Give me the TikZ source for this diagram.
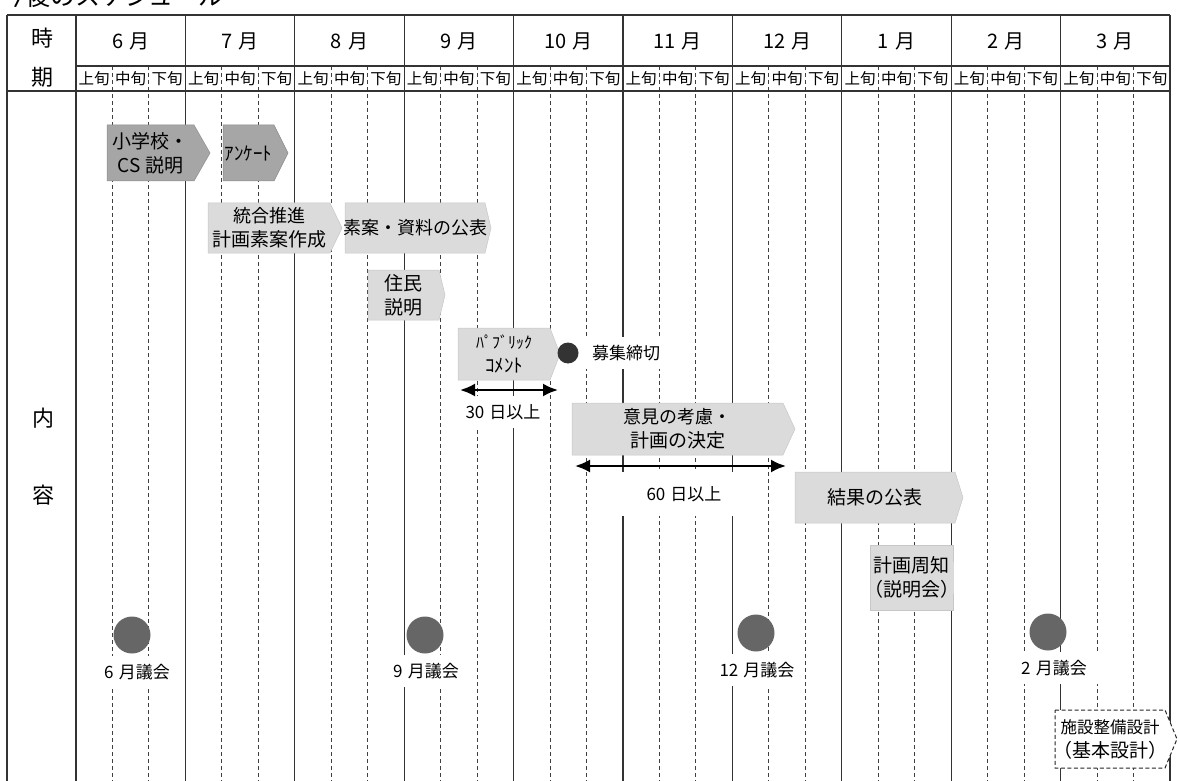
\documentclass[tikz,border=0pt]{standalone}
\usepackage{fontspec}
\setmainfont{Noto Sans CJK JP}
\usetikzlibrary{arrows.meta}
\newcommand\abox[8]{%
  \path[#7] (#2,#3) -- ({#4-#6},#3) -- (#4,{(#3+#5)/2}) -- ({#4-#6},#5) -- (#2,#5) -- cycle;
  \node[txt] (#1) at ({(#2+#4-#6)/2},{(#3+#5)/2}) {#8};
}
\newcommand\gp{\hspace{0.3em}}
\begin{document}
\begin{tikzpicture}[x=1pt,y=-1pt,
  mline/.style={line width=1.2pt, black!80},
  dline/.style={line width=0.9pt, black!75, dash pattern=on 4pt off 3pt},
  hdr/.style={font=\fontsize{20}{24}\selectfont, inner sep=0pt},
  sidehdr/.style={font=\fontsize{22}{26}\selectfont, inner sep=0pt},
  sub/.style={font=\fontsize{15.5}{17}\selectfont, inner sep=0pt},
  txt/.style={font=\fontsize{19}{24}\selectfont, align=center, inner sep=0pt},
  lbl/.style={font=\fontsize{17}{20}\selectfont, fill=white, inner xsep=10pt, inner ysep=8pt},
  dark/.style={fill=black!35, draw=black!45, line width=0.5pt},
  light/.style={fill=black!14, draw=black!22, line width=0.5pt},
  gdot/.style={circle, fill=black!60, minimum size=37pt, inner sep=0pt},
  bdot/.style={circle, fill=black!80, minimum size=21pt, inner sep=0pt},
  dimarrow/.style={line width=2.2pt, {Latex[length=15pt,width=13pt]}-{Latex[length=15pt,width=13pt]}},
]
\useasboundingbox (0,0) rectangle (1179,781);
\def\L{76}\def\W{109.4}
% title (cut off at top, as in the reference)
\node[anchor=base west, inner sep=0pt, font=\fontsize{25}{28}\selectfont] (title) at (0,6) {今後のスケジュール};
% grid
\foreach \k in {0,...,9}{
  \foreach \j in {1,2}{
    \draw[dline] ({\L+\k*\W+\j*\W/3},66) -- ({\L+\k*\W+\j*\W/3},781);
  }
}
\foreach \k in {0,...,10}{
  \draw[mline] ({\L+\k*\W},15) -- ({\L+\k*\W},781);
}
\draw[mline] (7,15) -- (7,781);
\draw[mline] (7,15) -- (1170,15);
\draw[mline] (76,66) -- (1170,66);
\draw[mline] (7,91) -- (1170,91);
% header
\node[sidehdr] (ji) at (42,38) {時};
\node[sidehdr] (ki) at (42,77) {期};
\node[sidehdr] (nai) at (43,418) {内};
\node[sidehdr] (you) at (43,495) {容};
\foreach \m [count=\c from 0] in {6,7,8,9,10,11,12,1,2,3}{
  \node[hdr] (m\c) at ({\L+\c*\W+\W/2},41) {\m\gp 月};
  \node[sub] (s\c a) at ({\L+\c*\W+\W/6},79) {上旬};
  \node[sub] (s\c b) at ({\L+\c*\W+\W/2},79) {中旬};
  \node[sub] (s\c c) at ({\L+\c*\W+5*\W/6},79) {下旬};
}
% labels with white backgrounds
\node[lbl] (boshu) at (626,353) {募集締切};
\node[lbl, inner xsep=8pt] (d30) at (503,412) {30\gp 日以上};
\node[lbl, minimum width=160pt, minimum height=44pt] (d60) at (684,494) {60\gp 日以上};
% boxes
\abox{b1}{107}{125}{210}{181}{16}{dark}{小学校・\\CS 説明}
\abox{b2}{223}{125}{288}{181}{14}{dark}{\fontsize{19}{24}\selectfont ｱﾝｹｰﾄ}
\abox{b3}{208}{203}{342}{253}{12}{light}{\fontsize{18}{24}\selectfont 統合推進\\計画素案作成}
\abox{b4}{345}{203}{491}{253}{6}{light}{\fontsize{18}{24}\selectfont 素案・資料の公表}
\abox{b5}{368}{270}{445}{320}{6}{light}{住民\\説明}
\abox{b6}{458}{328}{560}{380}{10}{light}{\fontsize{16}{24}\selectfont ﾊﾟﾌﾞﾘｯｸ\\ｺﾒﾝﾄ}
\abox{b7}{572}{403}{795}{455}{12}{light}{\fontsize{18}{24}\selectfont 意見の考慮・\\計画の決定}
\abox{b8}{795}{472}{963}{523}{8}{light}{結果の公表}
\abox{b9}{870}{545}{953}{610}{0}{light}{計画周知\\（説明会）}
\abox{b10}{1055}{710}{1177}{768}{12}{draw=black!85, fill=white, line width=1pt, dash pattern=on 4pt off 2.5pt}{\fontsize{16.5}{22}\selectfont 施設整備設計\\（基本設計）}
% deadline dot
\node[bdot] (dl) at (568,353) {};
% dimension arrows
\coordinate (a30s) at (460,390);
\coordinate (a30e) at (558,390);
\coordinate (a60s) at (575,466);
\coordinate (a60e) at (786,466);
\draw[dimarrow] (a30s) -- (a30e);
\draw[dimarrow] (a60s) -- (a60e);
% council dots
\node[gdot] (d6) at (132,635) {};
\node[lbl] (l6) at (137,672) {6\gp 月議会};
\node[gdot] (d9) at (425,635) {};
\node[lbl] (l9) at (426,671) {9\gp 月議会};
\node[gdot] (d12) at (756,633) {};
\node[lbl] (l12) at (757,670) {12\gp 月議会};
\node[gdot] (d2) at (1048,632) {};
\node[lbl, inner xsep=14pt] (l2) at (1054,668) {2\gp 月議会};
\end{tikzpicture}
\end{document}
